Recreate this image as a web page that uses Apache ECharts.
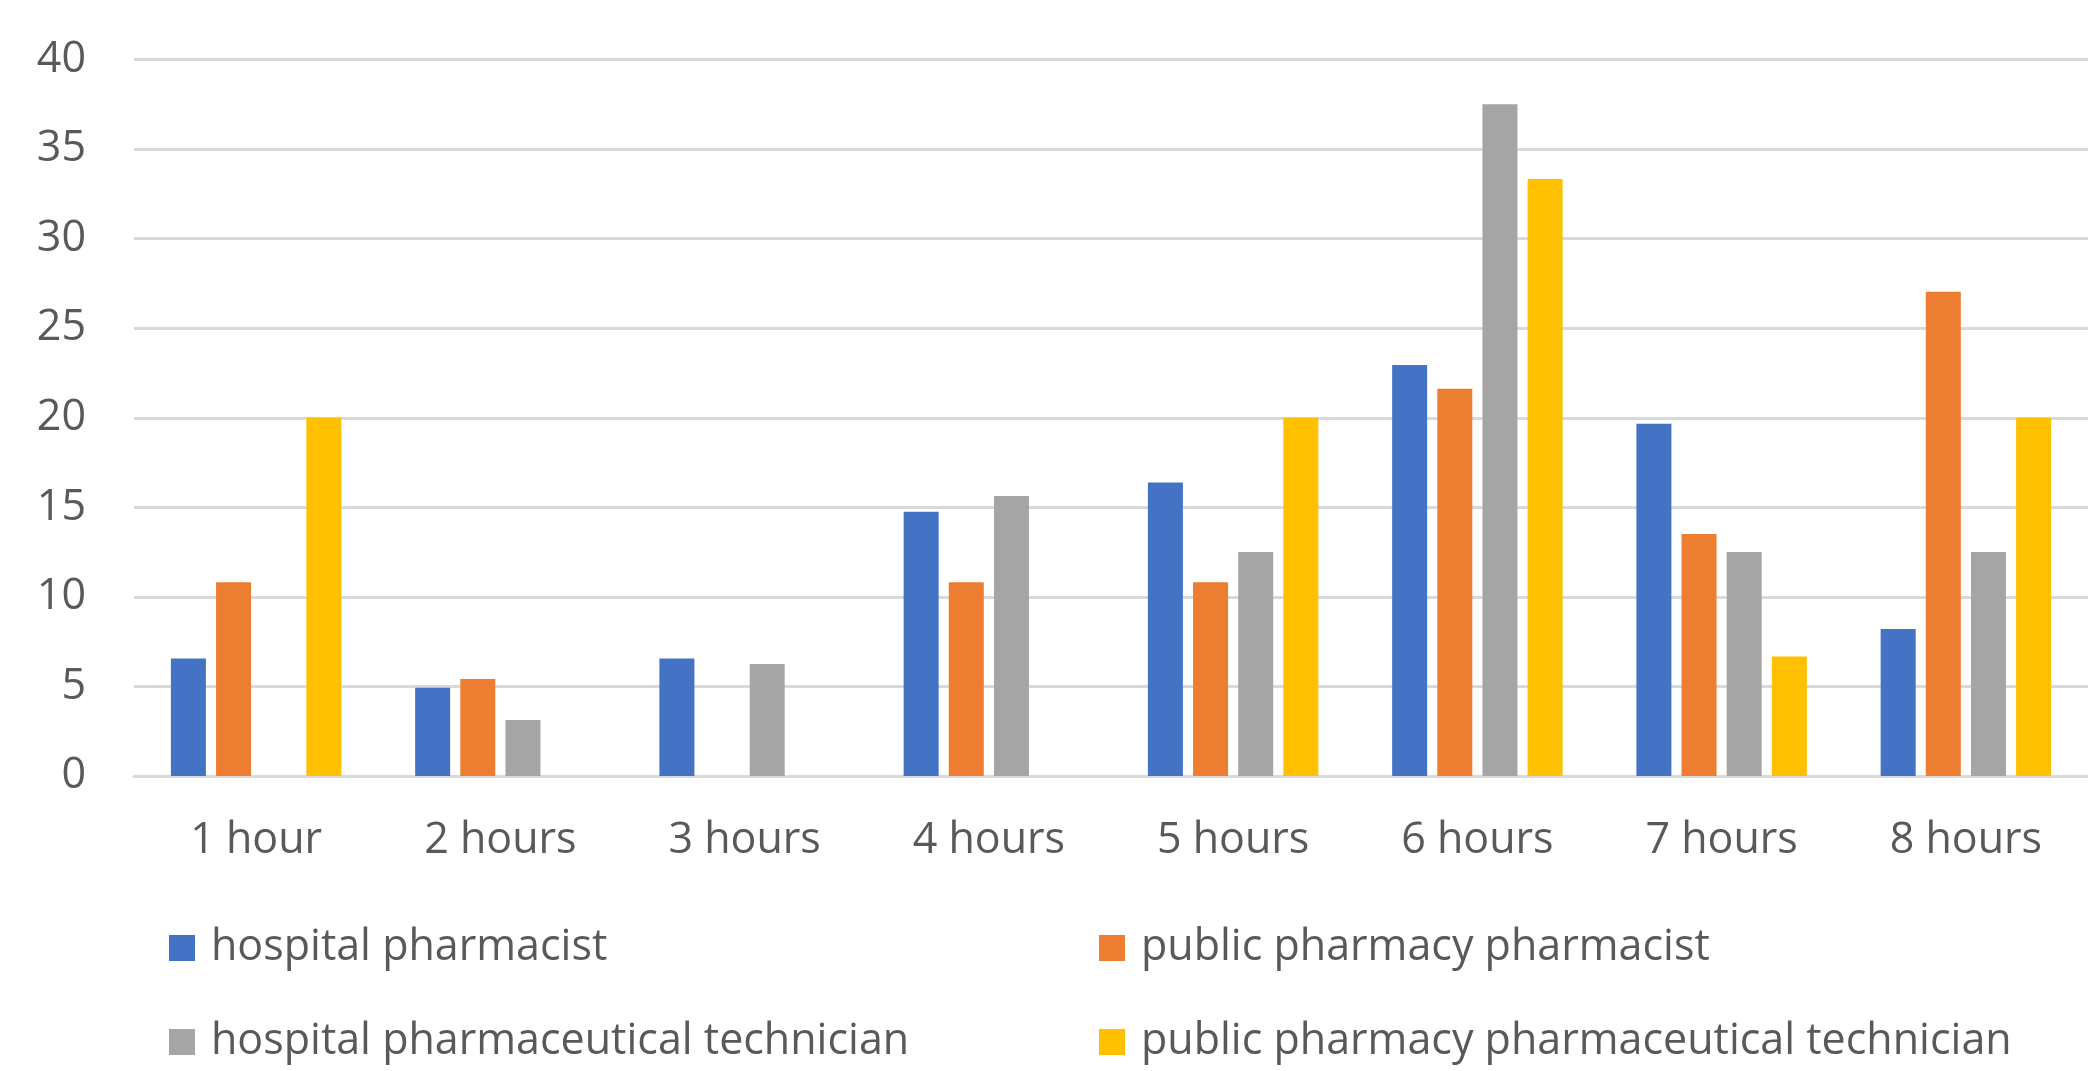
<!DOCTYPE html>
<html>
<head>
<meta charset="utf-8">
<script src="https://cdn.jsdelivr.net/npm/echarts@6/dist/echarts.min.js"></script>
<style>
  html, body { margin: 0; padding: 0; background: #ffffff; }
  #chart { width: 2088px; height: 1071px; }
</style>
</head>
<body>
<div id="chart"></div>
<script>
const categories = ['1 hour', '2 hours', '3 hours', '4 hours', '5 hours', '6 hours', '7 hours', '8 hours'];
const seriesNames = ['hospital pharmacist', 'public pharmacy pharmacist', 'hospital pharmaceutical technician', 'public pharmacy pharmaceutical technician'];
const hospitalPharmacist = [6.56, 4.92, 6.56, 14.75, 16.39, 22.95, 19.67, 8.20];
const publicPharmacist = [10.81, 5.41, 0, 10.81, 10.81, 21.62, 13.51, 27.03];
const hospitalTechnician = [0, 3.13, 6.25, 15.63, 12.5, 37.5, 12.5, 12.5];
const publicTechnician = [20, 0, 0, 0, 20, 33.33, 6.67, 20];
const yTicks = { min: 0, max: 40, interval: 5 };

const colors = ['#4472C4', '#ED7D31', '#A5A5A5', '#FFC000'];
const values = [hospitalPharmacist, publicPharmacist, hospitalTechnician, publicTechnician];
const font = '"Open Sans", "Noto Sans", sans-serif';
const textColor = '#595959';

const chart = echarts.init(document.getElementById('chart'), null, { renderer: 'canvas' });

// legend placement: 2 columns x 2 rows
const legendPos = [
  { left: 169, top: 926 },
  { left: 1099, top: 926 },
  { left: 169, top: 1020 },
  { left: 1099, top: 1020 }
];

const legends = seriesNames.map((name, i) => ({
  orient: 'horizontal',
  icon: 'rect',
  itemWidth: 26,
  itemHeight: 26,
  left: legendPos[i].left,
  top: legendPos[i].top,
  padding: 0,
  selectedMode: false,
  data: [name],
  textStyle: {
    fontFamily: font,
    fontSize: 43,
    lineHeight: 44,
    color: textColor,
    padding: [0, 0, 0, 11]
  }
}));

chart.setOption({
  animation: false,
  color: colors,
  grid: { left: 134, top: 59.5, width: 1964, height: 716.5, containLabel: false },
  legend: legends,
  xAxis: {
    type: 'category',
    data: categories,
    axisTick: { show: false },
    axisLine: { show: true, lineStyle: { color: '#D9D9D9', width: 3 } },
    axisLabel: { margin: 43, fontFamily: font, fontSize: 43, color: textColor, interval: 0 },
    splitLine: { show: false }
  },
  yAxis: {
    type: 'value',
    min: yTicks.min,
    max: yTicks.max,
    interval: yTicks.interval,
    axisLine: { show: false },
    axisTick: { show: false },
    axisLabel: { margin: 48, fontFamily: font, fontSize: 43, color: textColor },
    splitLine: { show: true, lineStyle: { color: '#D9D9D9', width: 3 } }
  },
  series: seriesNames.map((name, i) => ({
    name: name,
    type: 'bar',
    data: values[i],
    barWidth: 35,
    barGap: '29%',
    itemStyle: { color: colors[i] }
  }))
});
</script>
</body>
</html>
